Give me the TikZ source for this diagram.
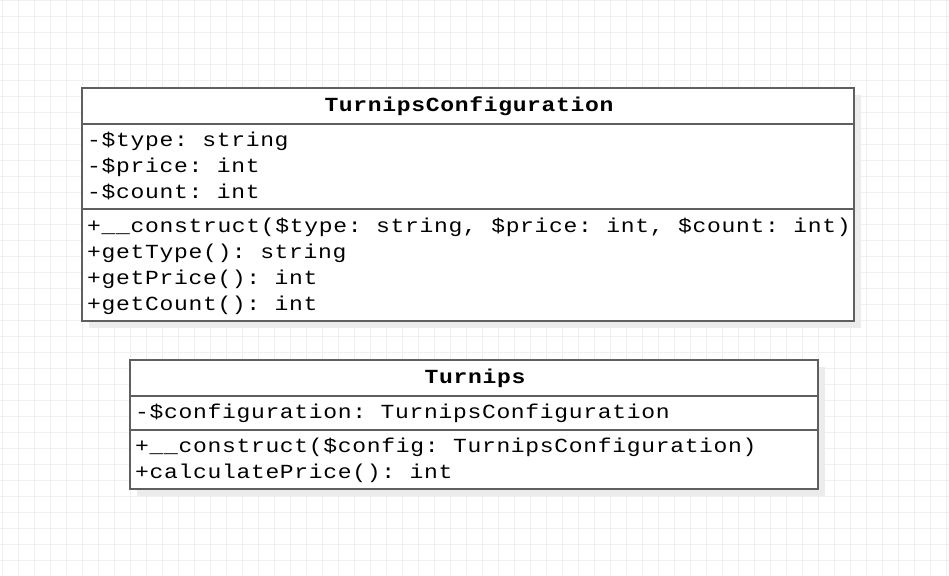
\documentclass[tikz,border=0pt]{standalone}
\usepackage{fontspec}
\newfontfamily\umlfont[FakeStretch=1.15,LetterSpace=3.4]{Liberation Mono}
\definecolor{gridc}{HTML}{F0F0F0}
\definecolor{linec}{HTML}{5F5F5F}
\definecolor{shadowc}{HTML}{ECECEC}
\tikzset{
  member/.style={anchor=base west, inner sep=0pt, font=\frenchspacing\umlfont\fontsize{20}{26}\selectfont},
  title/.style={anchor=base, inner sep=0pt, font=\frenchspacing\umlfont\bfseries\fontsize{20}{26}\selectfont},
  boxline/.style={draw=linec, line width=1.3pt},
}
\begin{document}
\begin{tikzpicture}[x=1pt,y=-1pt]
\useasboundingbox (0,0) rectangle (949,575);
\fill[white] (0,0) rectangle (949,575);
% grid
\foreach \i in {0,...,59} {\draw[gridc, line width=0.8pt] ({2+16*\i},0) -- ({2+16*\i},575);}
\foreach \j in {0,...,36} {\draw[gridc, line width=0.8pt] (0,{0.3+16*\j}) -- (949,{0.3+16*\j});}
% class TurnipsConfiguration
\fill[shadowc] (89,95) rectangle (861,328);
\fill[white] (82,88) rectangle (854,321);
\draw[boxline] (82,88) rectangle (854,321);
\draw[boxline] (82,124) -- (854,124);
\draw[boxline] (82,209) -- (854,209);
\node[title] (t1) at (469,111) {TurnipsConfiguration};
\node[member] (a1) at (87,146.5) {-\$type: string};
\node[member] (a2) at (87,172.5) {-\$price: int};
\node[member] (a3) at (87,198.5) {-\$count: int};
\node[member] (m1) at (87,232.5) {+\_\_construct(\$type: string, \$price: int, \$count: int)};
\node[member] (m2) at (87,258.5) {+getType(): string};
\node[member] (m3) at (87,284.5) {+getPrice(): int};
\node[member] (m4) at (87,310.5) {+getCount(): int};
% class Turnips
\fill[shadowc] (137,367) rectangle (825,496);
\fill[white] (130,360) rectangle (818,489);
\draw[boxline] (130,360) rectangle (818,489);
\draw[boxline] (130,396) -- (818,396);
\draw[boxline] (130,430) -- (818,430);
\node[title] (t2) at (475,383) {Turnips};
\node[member] (b1) at (135,418.5) {-\$configuration: TurnipsConfiguration};
\node[member] (n1) at (135,452.5) {+\_\_construct(\$config: TurnipsConfiguration)};
\node[member] (n2) at (135,478.5) {+calculatePrice(): int};
\end{tikzpicture}
\end{document}
